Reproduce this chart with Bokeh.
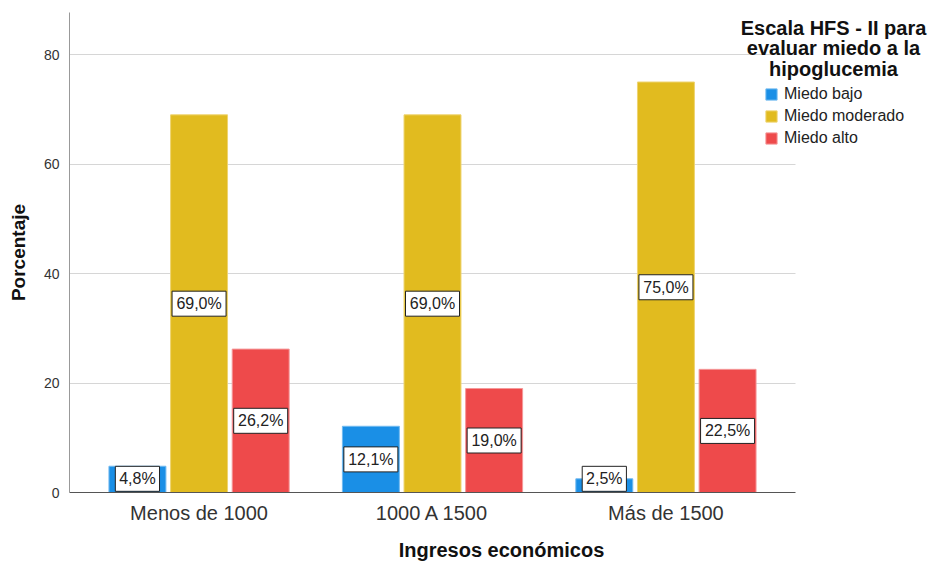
import numpy as np
from bokeh.plotting import figure
from bokeh.models import (ColumnDataSource, Range1d, Label, Legend, LegendItem, FixedTicker)
from bokeh.core.properties import value
from bokeh.embed import file_html
from bokeh.resources import INLINE

categories = ["Menos de 1000", "1000 A 1500", "Más de 1500"]
series_names = ["Miedo bajo", "Miedo moderado", "Miedo alto"]
bajo = [4.8, 12.1, 2.5]
moderado = [69.0, 69.0, 75.0]
alto = [26.2, 19.0, 22.5]
y_ticks = [0, 20, 40, 60, 80]

colors = ["#1a8fe6", "#e1bb1f", "#ee4a4b"]
edge = ["#72baf0", "#eed470", "#f59899"]
offsets = [-0.264, 0.0, 0.264]
FONT = "Liberation Sans"

W, H = 933, 563
LEFT, TOP, BOTTOM = 69, 12, 71
PLOT_RIGHT = 795                 # where axis/grid end
pad = 0.555                      # category padding (in category units)
x_start, x_axis_end = -pad, len(categories) - 1 + pad
px_per_unit = (PLOT_RIGHT - LEFT) / (x_axis_end - x_start)
x_end = x_start + (W - LEFT) / px_per_unit

p = figure(x_range=Range1d(x_start, x_end), y_range=Range1d(0, 87.7), width=W, height=H,
           output_backend="svg", toolbar_location=None,
           min_border_left=LEFT, min_border_top=TOP, min_border_right=0, min_border_bottom=BOTTOM)
p.outline_line_color = None
p.xgrid.grid_line_color = None
p.ygrid.grid_line_color = "#d6d6d6"
p.ygrid.ticker = FixedTicker(ticks=y_ticks)
p.ygrid.cross_bounds = (x_start, x_axis_end)
p.yaxis.ticker = FixedTicker(ticks=y_ticks)

idx = np.arange(len(categories))
renderers = []
for name, vals, col, ec, off in zip(series_names, [bajo, moderado, alto], colors, edge, offsets):
    txt = [("%.1f" % v).replace(".", ",") + "%" for v in vals]
    src = ColumnDataSource(dict(x=idx + off, val=vals,
                                laby=[max(v / 2, 2.5) for v in vals],
                                txt=txt, bw=[9.8 * len(t) + 5 for t in txt]))
    r = p.vbar(x="x", top="val", width=0.244, source=src,
               fill_color=col, line_color=ec, line_width=1)
    renderers.append(r)
    p.rect(x="x", y="laby", width="bw", height=25, width_units="screen", height_units="screen",
           source=src, fill_color="white", line_color="#222222", line_width=1)
    p.text(x="x", y="laby", text="txt", source=src, text_align="center", text_baseline="middle",
           text_font=value(FONT), text_font_size="16px", text_color="#222222")

# axes
p.xaxis.ticker = FixedTicker(ticks=list(idx))
p.xaxis.major_label_overrides = {int(i): c for i, c in zip(idx, categories)}
p.xaxis.bounds = (x_start, x_axis_end)
p.yaxis.axis_label = "Porcentaje"
p.xaxis.axis_label = "Ingresos económicos"
for ax in (p.xaxis, p.yaxis):
    ax.axis_label_text_font = FONT
    ax.axis_label_text_font_style = "bold"
    ax.axis_label_text_color = "#111111"
    ax.major_label_text_font = FONT
    ax.major_tick_in = 0
    ax.major_tick_out = 0
    ax.minor_tick_in = 0
    ax.minor_tick_out = 0
p.yaxis.axis_label_text_font_size = "19px"
p.xaxis.axis_label_text_font_size = "20px"
p.yaxis.major_label_text_font_size = "14px"
p.yaxis.major_label_text_color = "#333333"
p.xaxis.major_label_text_font_size = "20px"
p.xaxis.major_label_text_color = "#333333"
p.yaxis.axis_line_color = "#999999"
p.xaxis.axis_line_color = "#555555"
p.yaxis.major_label_standoff = 10
p.yaxis.axis_label_standoff = 12
p.xaxis.major_label_standoff = 9
p.xaxis.axis_label_standoff = 12

# legend title (three centered lines)
title_lines = ["Escala HFS - II para", "evaluar miedo a la", "hipoglucemia"]
for i, t in enumerate(title_lines):
    p.add_layout(Label(x=764, y=465 - i * 20.5, x_units="screen", y_units="screen", text=t,
                       text_align="center", text_baseline="alphabetic", text_font=FONT,
                       text_font_style="bold", text_font_size="20px", text_color="#111111"))

legend = Legend(items=[LegendItem(label=n, renderers=[r]) for n, r in zip(series_names, renderers)],
                location=(695, 345), padding=0, margin=0, spacing=4,
                glyph_width=14, glyph_height=14, label_height=14, label_standoff=6,
                label_text_font=FONT, label_text_font_size="16px", label_text_color="#222222",
                border_line_alpha=0, background_fill_alpha=0)
p.add_layout(legend, "center")

open("out.html", "w").write(file_html(p, INLINE))
